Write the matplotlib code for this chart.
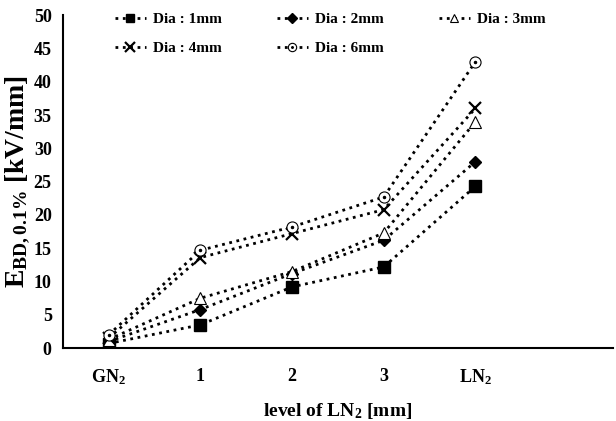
import matplotlib.pyplot as plt

plt.rcParams["font.family"] = "Liberation Serif"
plt.rcParams["font.weight"] = "bold"
plt.rcParams["mathtext.fontset"] = "custom"
plt.rcParams["mathtext.rm"] = "Liberation Serif:bold"
plt.rcParams["mathtext.it"] = "Liberation Serif:bold"
plt.rcParams["mathtext.bf"] = "Liberation Serif:bold"
plt.rcParams["mathtext.default"] = "bf"

levels = ["GN$_2$", "1", "2", "3", "LN$_2$"]
dia_1mm = [0.7, 3.5, 9.2, 12.2, 24.3]
dia_2mm = [1.0, 5.8, 11.2, 16.2, 28.0]
dia_3mm = [1.3, 7.5, 11.5, 17.3, 34.0]
dia_4mm = [1.5, 13.6, 17.2, 20.8, 36.0]
dia_6mm = [2.0, 14.7, 18.2, 22.7, 43.0]

x = list(range(len(levels)))

fig, ax = plt.subplots(figsize=(6.16, 4.21), dpi=100)
fig.subplots_adjust(left=0.102, right=0.995, bottom=0.173, top=0.964)

lk = dict(color="black", linestyle=":", linewidth=2)
h1, = ax.plot(x, dia_1mm, marker="s", markersize=8, **lk)
h2, = ax.plot(x, dia_2mm, marker="D", markersize=6.5, **lk)
h3, = ax.plot(x, dia_3mm, marker="^", markersize=8, markerfacecolor="white",
              markeredgewidth=0.8, **lk)
h4, = ax.plot(x, dia_4mm, marker="x", markersize=9, markeredgewidth=1.6, **lk)
h6, = ax.plot(x, dia_6mm, marker="o", markersize=8, markerfacecolor="white",
              markeredgewidth=0.8, **lk)
d6, = ax.plot(x, dia_6mm, linestyle="none", marker="o", markersize=1.5,
              color="black")

# row-major order for a 3-column legend
ax.legend([h1, h4, h2, (h6, d6), h3],
          ["Dia : 1mm", "Dia : 4mm", "Dia : 2mm", "Dia : 6mm", "Dia : 3mm"],
          ncol=3, loc="upper left", bbox_to_anchor=(0.07, 1.05), frameon=False,
          handlelength=2.0, columnspacing=3.6, labelspacing=1.0,
          markerscale=0.75, handletextpad=0.5,
          prop={"size": 11, "weight": "bold"})

ax.set_xlim(-0.5, 5.5)
ax.set_ylim(0, 50)
ax.set_yticks(range(0, 51, 5))
ax.set_xticks(x)
ax.set_xticklabels(levels)
ax.tick_params(length=0, labelsize=13, pad=8)
ax.tick_params(axis="x", pad=14)
for s in ["top", "right"]:
    ax.spines[s].set_visible(False)
for s in ["left", "bottom"]:
    ax.spines[s].set_linewidth(1.5)

ax.set_xlabel("level of LN$_2$ [mm]", fontsize=14, fontweight="bold", labelpad=10)
ax.set_ylabel("E$_{BD,0.1\\%}$ [kV/mm]", fontsize=20, fontweight="bold", labelpad=1)

fig.savefig("out.png")
